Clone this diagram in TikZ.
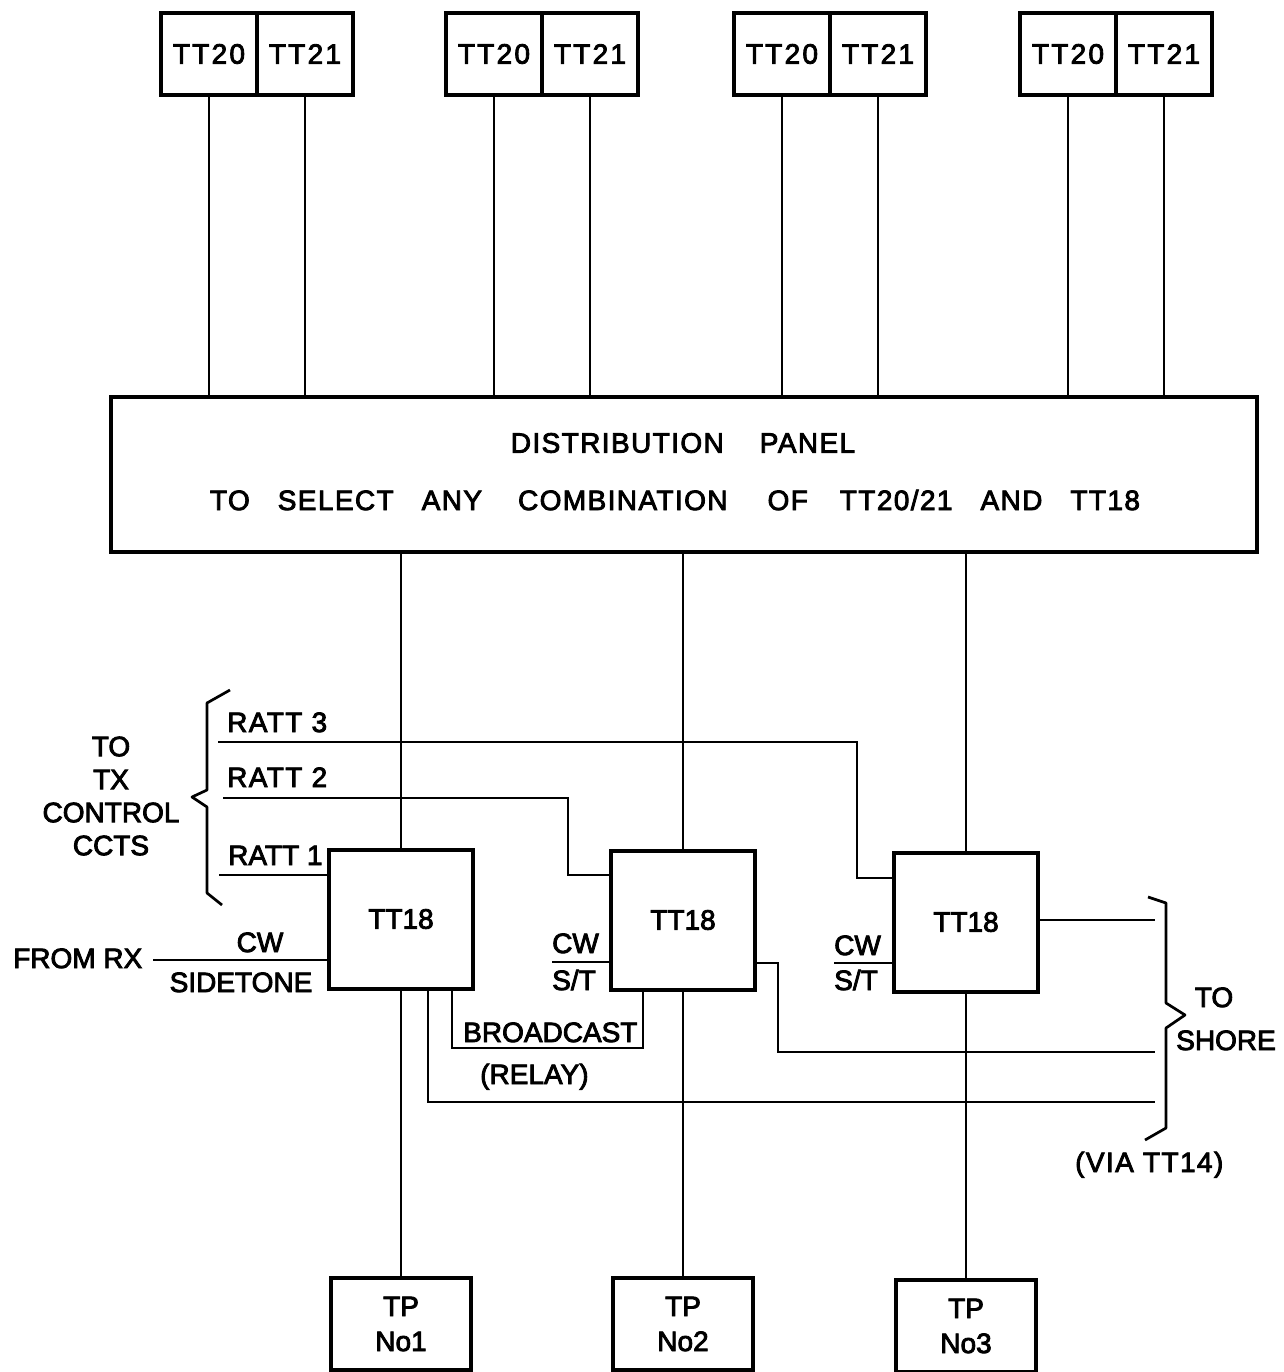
\documentclass[tikz,border=0pt]{standalone}
\usepackage{fontspec}
\setmainfont[FakeBold=3]{Liberation Sans}
\begin{document}
\begin{tikzpicture}[x=1pt,y=-1pt,
  line/.style={line width=2.7pt},
  box/.style={draw,line width=4pt,rectangle,inner sep=0pt,font=\fontsize{28}{35}\selectfont,align=center},
  ttbox/.style={box,minimum width=96pt,minimum height=82pt,font=\fontsize{28}{35}\selectfont\addfontfeatures{LetterSpace=8,FakeBold=3}},
  tt18box/.style={box,minimum width=144pt,minimum height=139pt},
  tpbox/.style={box,minimum width=140pt,minimum height=92pt},
  lbl/.style={inner sep=0pt,font=\fontsize{28}{33}\selectfont},
  wide/.style={lbl,font=\fontsize{28}{33}\selectfont\addfontfeatures{LetterSpace=5,FakeBold=3}},
  brace/.style={line width=2.7pt,line join=round}
]
\useasboundingbox (0,0) rectangle (1283,1372);
\fill[white] (0,0) rectangle (1283,1372);

% top TT20/TT21 boxes
\node[ttbox] (t1a) at (209,54) {TT20};
\node[ttbox] (t1b) at (305,54) {TT21};
\node[ttbox] (t2a) at (494,54) {TT20};
\node[ttbox] (t2b) at (590,54) {TT21};
\node[ttbox] (t3a) at (782,54) {TT20};
\node[ttbox] (t3b) at (878,54) {TT21};
\node[ttbox] (t4a) at (1068,54) {TT20};
\node[ttbox] (t4b) at (1164,54) {TT21};

% distribution panel
\node[box,minimum width=1146pt,minimum height=155pt] (panel) at (684,474.5) {};
\node[wide] (pl1) at (683,443) {DISTRIBUTION\hspace{36pt}PANEL};
\node[wide] (pl2) at (675,500) {TO\hspace{28pt}SELECT\hspace{28pt}ANY\hspace{36pt}COMBINATION\hspace{40pt}OF\hspace{32pt}TT20/21\hspace{28pt}AND\hspace{28pt}TT18};

\foreach \n in {t1a,t1b,t2a,t2b,t3a,t3b,t4a,t4b}
  \draw[line] (\n.south) -- (\n.south |- panel.north);

% TT18 boxes
\node[tt18box] (tt1) at (401,919) {TT18};
\node[tt18box] (tt2) at (683,920) {TT18};
\node[tt18box] (tt3) at (966,922) {TT18};

% TP boxes
\node[tpbox] (tp1) at (401,1324) {TP\\No1};
\node[tpbox] (tp2) at (683,1324) {TP\\No2};
\node[tpbox] (tp3) at (966,1326) {TP\\No3};

\foreach \n in {tt1,tt2,tt3}
  \draw[line] (\n.north |- panel.south) -- (\n.north);
\draw[line] (tt1.south) -- (tp1.north);
\draw[line] (tt2.south) -- (tp2.north);
\draw[line] (tt3.south) -- (tp3.north);

% RATT lines
\coordinate (r3s) at (218,742);
\coordinate (r3k) at (857,878);
\draw[line] (r3s) -| (r3k) -- (r3k -| tt3.west);
\coordinate (r2s) at (223,798);
\coordinate (r2k) at (568,875);
\draw[line] (r2s) -| (r2k) -- (r2k -| tt2.west);
\coordinate (r1s) at (219,875);
\draw[line] (r1s) -- (r1s -| tt1.west);

% CW inputs
\coordinate (rx) at (153,960);
\draw[line] (rx) -- (rx -| tt1.west);
\coordinate (cw2) at (552,962);
\draw[line] (cw2) -- (cw2 -| tt2.west);
\coordinate (cw3) at (834,963);
\draw[line] (cw3) -- (cw3 -| tt3.west);

% broadcast relay loop
\coordinate (bl) at (452,1048);
\coordinate (br) at (643,1048);
\draw[line] (bl |- tt1.south) -- (bl) -- (br) -- (br |- tt2.south);

% to shore lines
\coordinate (s1) at (1155,920);
\draw[line] (s1 -| tt3.east) -- (s1);
\coordinate (s2k) at (778,963);
\coordinate (s2) at (1155,1052);
\draw[line] (s2k -| tt2.east) -- (s2k) |- (s2);
\coordinate (s3k) at (428,1102);
\coordinate (s3) at (1155,1102);
\draw[line] (s3k |- tt1.south) -- (s3k) -- (s3);

% braces
\draw[brace] (230,690) -- (207,703) -- (207,790) -- (192,797) -- (207,807) -- (207,893) -- (222,905);
\draw[brace] (1148,897) -- (1166,903) -- (1166,1003) -- (1185,1015) -- (1166,1028) -- (1166,1128) -- (1145,1140);

% labels
\node[wide,anchor=base west] (lr3) at (227,732) {RATT 3};
\node[wide,anchor=base west] (lr2) at (227,787) {RATT 2};
\node[lbl,anchor=base west] (lr1) at (228,865) {RATT 1};
\node[lbl,align=center] (ltx) at (111,796) {TO\\TX\\CONTROL\\CCTS};
\node[lbl,anchor=base west] (lrx) at (13,968) {FROM RX};
\node[lbl,anchor=base] (lcw1) at (260,952) {CW};
\node[lbl,anchor=base] (lsid) at (241,992) {SIDETONE};
\node[lbl,anchor=base west] (lcw2) at (552,953) {CW};
\node[lbl,anchor=base west] (lst2) at (552,990) {S/T};
\node[lbl,anchor=base west] (lcw3) at (834,955) {CW};
\node[lbl,anchor=base west] (lst3) at (834,990) {S/T};
\node[lbl,anchor=base west] (lbc) at (463,1042) {BROADCAST};
\node[lbl,anchor=base west] (lrel) at (480,1084) {(RELAY)};
\node[lbl,anchor=base] (lto) at (1214,1007) {TO};
\node[lbl,anchor=base west] (lsh) at (1176,1050) {SHORE};
\node[wide,anchor=base west] (lvia) at (1075,1172) {(VIA TT14)};
\end{tikzpicture}
\end{document}
